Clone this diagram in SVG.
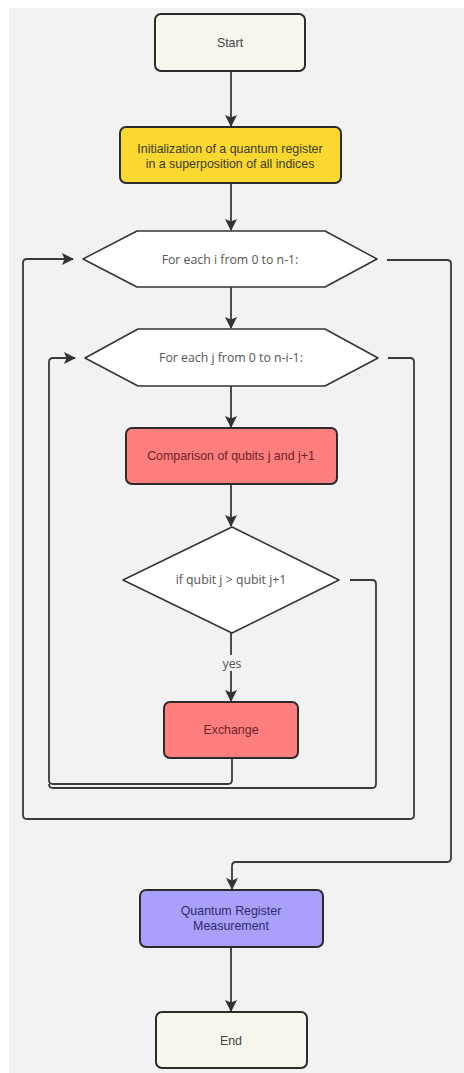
<svg xmlns="http://www.w3.org/2000/svg" width="464" height="1073" viewBox="0 0 464 1073">
<defs>
<style>
.box{stroke:#2b2b2b;stroke-width:2}
.hex{fill:#ffffff;stroke:#333;stroke-width:1.5;stroke-linejoin:round}
.c{fill:none;stroke:#3a3a3a;stroke-width:1.8}
.t{font-family:"Liberation Sans",Arial,sans-serif;font-size:12.4px;text-anchor:middle}
.t2{font-family:"Open Sans","Liberation Sans",sans-serif;font-size:12.3px;text-anchor:middle;fill:#555}
</style>
<marker id="ah" viewBox="0 0 12 12" refX="11" refY="6" markerWidth="12" markerHeight="12" markerUnits="userSpaceOnUse" orient="auto">
<path d="M0,0 L12,6 L0,12 L2.5,6 Z" fill="#333"/>
</marker>
</defs>
<rect x="0" y="0" width="464" height="1073" fill="#ffffff"/>
<rect x="9" y="8" width="455" height="1065" fill="#f2f2f2"/>

<g id="connectors">
<path class="c" d="M231,71 V126" marker-end="url(#ah)"/>
<path class="c" d="M231,183 V230" marker-end="url(#ah)"/>
<path class="c" d="M231,287 V328" marker-end="url(#ah)"/>
<path class="c" d="M231,386 V427" marker-end="url(#ah)"/>
<path class="c" d="M231,484 V526" marker-end="url(#ah)"/>
<path class="c" d="M231,633 V701" marker-end="url(#ah)"/>
<path class="c" d="M231,947 V1011" marker-end="url(#ah)"/>
<path class="c" d="M232,758 V780 Q232,784 228,784 H53 Q49,784 49,780 V362 Q49,358 53,358 H75" marker-end="url(#ah)"/>
<path class="c" d="M350,580 H372 Q376,580 376,584 V784 Q376,788 372,788 H53 Q49,788 49,784"/>
<path class="c" d="M388,358 H410 Q414,358 414,362 V815 Q414,819 410,819 H27 Q23,819 23,815 V263 Q23,259 27,259 H73" marker-end="url(#ah)"/>
<path class="c" d="M387,260 H447 Q451,260 451,264 V858 Q451,862 447,862 H236 Q232,862 232,866 V889" marker-end="url(#ah)"/>
<rect x="218" y="655" width="28" height="16" fill="#f2f2f2"/>
<text class="t2" x="232" y="668">yes</text>
</g>

<g id="start">
<rect class="box" x="155" y="14" width="150" height="57" rx="6" fill="#f8f6ec"/>
<text class="t" x="230" y="47" fill="#444">Start</text>
</g>
<g id="init">
<rect class="box" x="120" y="127" width="221" height="56" rx="6" fill="#fbd830"/>
<text class="t" x="230" y="153" fill="#3a3a2a">Initialization of a quantum register</text>
<text class="t" x="230" y="168" fill="#3a3a2a">in a superposition of all indices</text>
</g>
<g id="loop-i">
<path class="hex" d="M83,259 L137,231 H325 L377,259 L325,287 H137 Z"/>
<text class="t2" x="230" y="264">For each i from 0 to n-1:</text>
</g>
<g id="loop-j">
<path class="hex" d="M85,358 L138,329 H325 L378,358 L325,386 H138 Z"/>
<text class="t2" x="231" y="362">For each j from 0 to n-i-1:</text>
</g>
<g id="compare">
<rect class="box" x="126" y="428" width="211" height="56" rx="6" fill="#ff7f7f"/>
<text class="t" x="231" y="460" fill="#6b2424">Comparison of qubits j and j+1</text>
</g>
<g id="decision">
<path class="hex" d="M232,527 L339,580 L232,633 L123,580 Z"/>
<text class="t2" x="231" y="584">if qubit j &gt; qubit j+1</text>
</g>
<g id="exchange">
<rect class="box" x="164" y="702" width="134" height="56" rx="6" fill="#ff7f7f"/>
<text class="t" x="231" y="734" fill="#6b2424">Exchange</text>
</g>
<g id="measure">
<rect class="box" x="140" y="890" width="183" height="57" rx="6" fill="#a8a0fb"/>
<text class="t" x="231" y="915" fill="#2e2a6b">Quantum Register</text>
<text class="t" x="231" y="930" fill="#2e2a6b">Measurement</text>
</g>
<g id="end">
<rect class="box" x="156" y="1012" width="151" height="56" rx="6" fill="#f8f6ec"/>
<text class="t" x="231" y="1045" fill="#444">End</text>
</g>
</svg>
